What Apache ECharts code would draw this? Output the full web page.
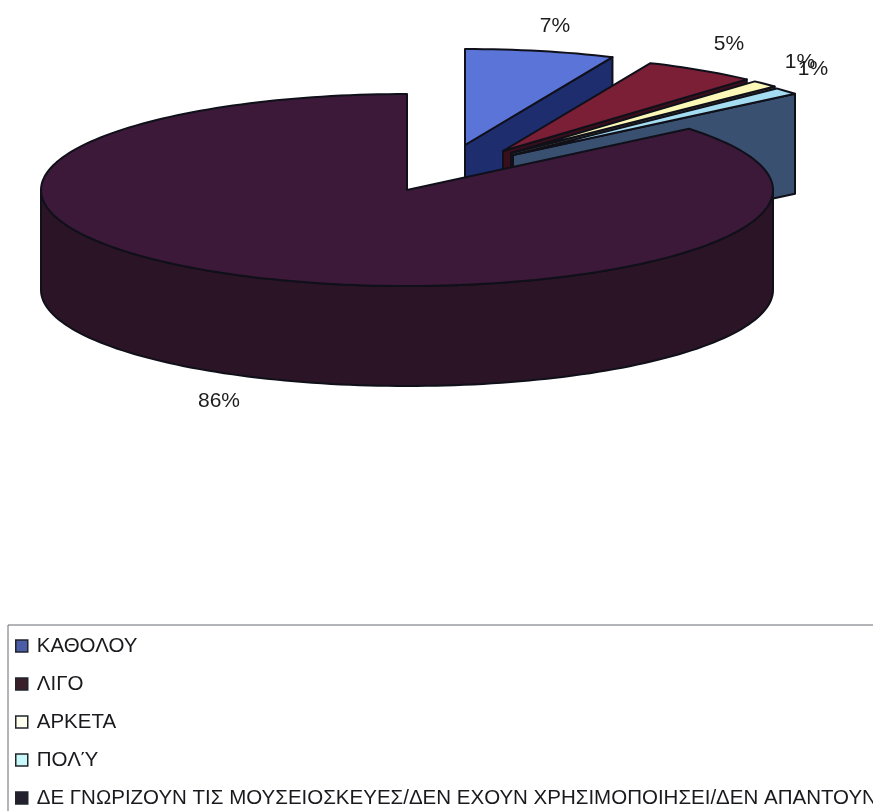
<!DOCTYPE html>
<html>
<head>
<meta charset="utf-8">
<style>html,body{margin:0;padding:0;background:#fff;overflow:hidden}#c{width:873px;height:811px}</style>
<script src="https://cdn.jsdelivr.net/npm/echarts@6/dist/echarts.min.js"></script>
</head>
<body>
<div id="c"></div>
<script>
const categories = ['ΚΑΘΟΛΟΥ', 'ΛΙΓΟ', 'ΑΡΚΕΤΑ', 'ΠΟΛΎ', 'ΔΕ ΓΝΩΡΙΖΟΥΝ ΤΙΣ ΜΟΥΣΕΙΟΣΚΕΥΕΣ/ΔΕΝ ΕΧΟΥΝ ΧΡΗΣΙΜΟΠΟΙΗΣΕΙ/ΔΕΝ ΑΠΑΝΤΟΥΝ'];
const shares = [6.6, 5, 1.2, 1.2, 86];

const topColors = ['#5b74d8', '#7a1f36', '#fbf8b8', '#a4dcf2', '#3d1939'];
const wallColors = ['#1d2d6e', '#3a0f1c', '#55533a', '#3a5070', '#2b1425'];
const legendColors = ['#4a5da6', '#3a1f2a', '#fffff0', '#c8f8f8', '#24202e'];
const pieLayout = { cx: 407, cy: 190, rx: 366, ry: 96, depth: 100 };
const explode = [[58, -45], [96, -39], [104, -37], [106, -35], [0, 0]];
const labelAt = [[555, 26], [729, 44], [800, 62], [813, 69], [219, 401]];
const outline = '#10101a';
const font = '"Liberation Sans", Arial, sans-serif';

const total = shares.reduce((a, b) => a + b, 0);
const startAngles = shares.map((_, i) => shares.slice(0, i).reduce((a, b) => a + b, 0) / total * 360);

function pt(cx, cy, deg, dy) {
  const t = deg * Math.PI / 180;
  return [cx + pieLayout.rx * Math.sin(t), cy - pieLayout.ry * Math.cos(t) + (dy || 0)];
}
function arc(cx, cy, a0, a1, dy) {
  const n = Math.max(2, Math.ceil(Math.abs(a1 - a0) / 1.5));
  const out = [];
  for (let k = 0; k <= n; k++) out.push(pt(cx, cy, a0 + (a1 - a0) * k / n, dy));
  return out;
}
function poly(points, fill) {
  return { type: 'polygon', shape: { points }, style: { fill, stroke: outline, lineWidth: 2, lineJoin: 'round' } };
}
function renderSlice(i) {
  return function (params, api) {
    const a0 = startAngles[i], a1 = a0 + api.value(0) / total * 360;
    const cx = pieLayout.cx + explode[i][0], cy = pieLayout.cy + explode[i][1];
    const d = pieLayout.depth, children = [];
    if (i < shares.length - 1) {
      const e = pt(cx, cy, a1);
      children.push(poly([[cx, cy], e, [e[0], e[1] + d], [cx, cy + d]], wallColors[i]));
    } else {
      const f0 = Math.max(a0, 90), f1 = Math.min(a1, 270);
      children.push(poly(arc(cx, cy, f0, f1, 0).concat(arc(cx, cy, f1, f0, d)), wallColors[i]));
    }
    children.push(poly([[cx, cy]].concat(arc(cx, cy, a0, a1)), topColors[i]));
    children.push({
      type: 'text',
      style: {
        text: Math.round(api.value(0) / total * 100) + '%',
        x: labelAt[i][0], y: labelAt[i][1],
        align: 'center', verticalAlign: 'middle',
        font: '21px ' + font, fill: '#1c1c1c'
      }
    });
    return { type: 'group', children };
  };
}

const chart = echarts.init(document.getElementById('c'), null, { renderer: 'canvas' });
chart.setOption({
  animation: false,
  backgroundColor: '#ffffff',
  legend: {
    orient: 'vertical',
    left: 8,
    top: 625,
    height: 400,
    padding: [10, 60, 40, 7],
    borderColor: '#666a70',
    borderWidth: 1,
    itemWidth: 12,
    itemHeight: 12,
    itemGap: 16,
    icon: 'rect',
    selectedMode: false,
    textStyle: { fontFamily: font, fontSize: 20.5, lineHeight: 22, color: '#1a1a1e', padding: [0, 0, 0, 4] },
    data: categories.map((name, i) => ({
      name,
      itemStyle: { color: legendColors[i], borderColor: '#20242c', borderWidth: 1.5 }
    }))
  },
  series: categories.map((name, i) => ({
    type: 'custom',
    name,
    coordinateSystem: 'none',
    silent: true,
    z: i + 2,
    data: [shares[i]],
    renderItem: renderSlice(i)
  }))
});
</script>
</body>
</html>
